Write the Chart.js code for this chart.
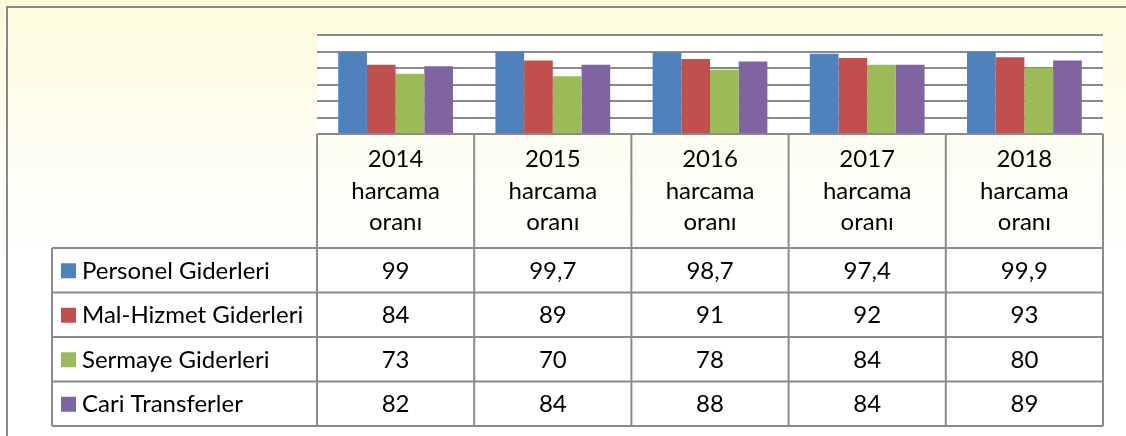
<!DOCTYPE html>
<html>
<head>
<meta charset="utf-8">
<script src="https://cdn.jsdelivr.net/npm/chart.js@4.4.1/dist/chart.umd.min.js"></script>
<style>
  html, body { margin: 0; padding: 0; background: #fff; }
  #wrap { width: 1126px; height: 436px; }
</style>
</head>
<body>
<div id="wrap"><canvas id="chartCanvas" width="1126" height="436"></canvas></div>
<script>
// veriler
const categories = ['2014', '2015', '2016', '2017', '2018'];
const headerLines = ['harcama', 'oranı'];
const seriesNames = ['Personel Giderleri', 'Mal-Hizmet Giderleri', 'Sermaye Giderleri', 'Cari Transferler'];
const personel = [99, 99.7, 98.7, 97.4, 99.9];
const malHizmet = [84, 89, 91, 92, 93];
const sermaye = [73, 70, 78, 84, 80];
const cari = [82, 84, 88, 84, 89];
const yTicks = [0, 20, 40, 60, 80, 100, 120];

const colors = ['#4F81BD', '#C0504D', '#9BBB59', '#8064A2'];
const allSeries = [personel, malHizmet, sermaye, cari];
const lineColor = '#8a8a8a';
const FONT = 'Lato, "Liberation Sans", sans-serif';

// arka plan + cerceve
const framePlugin = {
  id: 'frame',
  beforeDraw(chart) {
    const c = chart.ctx, a = chart.chartArea;
    c.save();
    const g = c.createLinearGradient(0, 0, 0, 260);
    g.addColorStop(0, '#fdfbdc');
    g.addColorStop(0.5, '#fefdf0');
    g.addColorStop(1, '#ffffff');
    c.fillStyle = g;
    c.fillRect(0, 0, chart.width, chart.height);
    c.fillStyle = '#ffffff';
    c.fillRect(a.left, a.top, a.right - a.left, a.bottom - a.top);
    c.strokeStyle = lineColor;
    c.lineWidth = 2;
    c.beginPath();
    c.moveTo(7, chart.height);
    c.lineTo(7, 7);
    c.lineTo(chart.width, 7);
    c.stroke();
    c.restore();
  }
};

// veri tablosu
const tablePlugin = {
  id: 'dataTable',
  afterDraw(chart) {
    const c = chart.ctx, a = chart.chartArea;
    const x = chart.scales.x;
    const n = categories.length;
    const colW = (a.right - a.left) / n;
    const top = a.bottom;
    const headH = 114;
    const rowH = 44.5;
    const left = 52;
    const bottom = top + headH + rowH * allSeries.length;

    c.save();
    // yazi boyutunu Calibri genisligine yaklastir
    c.font = '20px ' + FONT;
    const w = c.measureText('Personel Giderleri').width;
    const fs = Math.min(24, 20 * 195 / w);
    c.font = fs + 'px ' + FONT;

    c.fillStyle = '#ffffff';
    c.fillRect(left, top + headH, a.left - left, bottom - top - headH);

    c.strokeStyle = lineColor;
    c.lineWidth = 2;
    c.beginPath();
    // dikey cizgiler
    for (let i = 0; i <= n; i++) {
      const xx = a.left + i * colW;
      c.moveTo(xx, top);
      c.lineTo(xx, bottom);
    }
    c.moveTo(left, top + headH);
    c.lineTo(left, bottom);
    // yatay cizgiler
    c.moveTo(a.left, top);
    c.lineTo(a.right, top);
    for (let r = 0; r <= allSeries.length; r++) {
      const yy = top + headH + r * rowH;
      c.moveTo(left, yy);
      c.lineTo(a.right, yy);
    }
    c.stroke();

    c.fillStyle = '#000';
    c.textAlign = 'center';
    c.textBaseline = 'middle';
    const midHead = top + headH / 2;
    categories.forEach((cat, i) => {
      const cx = x.getPixelForValue(i);
      const lines = [cat].concat(headerLines);
      lines.forEach((t, k) => {
        c.fillText(t, cx, midHead + (k - 1) * 31.5);
      });
    });

    allSeries.forEach((arr, r) => {
      const cy = top + headH + r * rowH + rowH / 2 + 1;
      c.fillStyle = colors[r];
      c.fillRect(61, cy - 8, 15, 15);
      c.fillStyle = '#000';
      c.textAlign = 'left';
      c.fillText(seriesNames[r], 82, cy);
      c.textAlign = 'center';
      arr.forEach((v, i) => {
        c.fillText(String(v).replace('.', ','), x.getPixelForValue(i), cy);
      });
    });
    c.restore();
  }
};

const ctx = document.getElementById('chartCanvas').getContext('2d');
const chart = new Chart(ctx, {
  type: 'bar',
  data: {
    labels: categories,
    datasets: allSeries.map((arr, i) => ({
      label: seriesNames[i],
      data: arr,
      backgroundColor: colors[i],
      borderWidth: 0,
      barPercentage: 1,
      categoryPercentage: 0.73
    }))
  },
  options: {
    responsive: false,
    animation: false,
    layout: { padding: { left: 317, top: 35, right: 23, bottom: 302 } },
    plugins: { legend: { display: false }, tooltip: { enabled: false } },
    scales: {
      x: { display: false },
      y: {
        min: yTicks[0],
        max: yTicks[yTicks.length - 1],
        afterBuildTicks(axis) { axis.ticks = yTicks.map(v => ({ value: v })); },
        ticks: { display: false },
        border: { display: false },
        grid: { color: lineColor, lineWidth: 2, drawTicks: false }
      }
    }
  },
  plugins: [framePlugin, tablePlugin]
});
</script>
</body>
</html>
